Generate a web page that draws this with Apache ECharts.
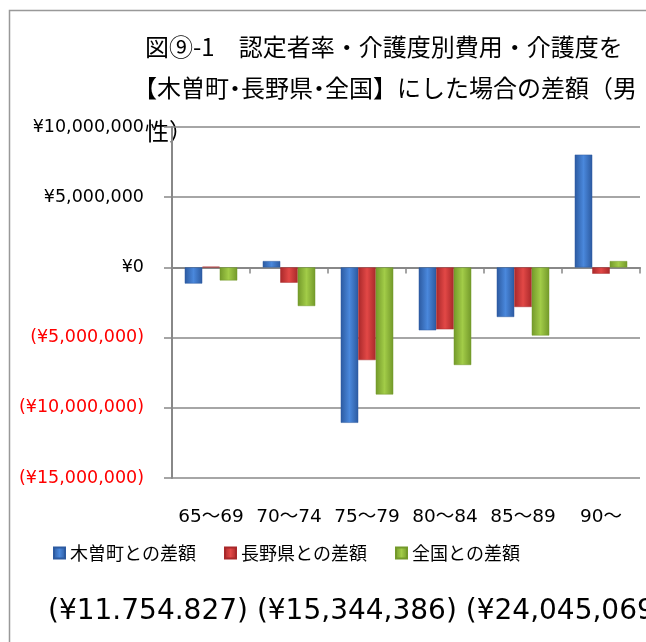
<!DOCTYPE html>
<html>
<head>
<meta charset="utf-8">
<script src="https://cdn.jsdelivr.net/npm/echarts@6/dist/echarts.min.js"></script>
<style>html,body{margin:0;padding:0;background:#fff;}#c{width:646px;height:642px;}</style>
</head>
<body>
<div id="c"></div>
<script>
const categories = ['65～69', '70～74', '75～79', '80～84', '85～89', '90～'];
const seriesNames = ['木曽町との差額', '長野県との差額', '全国との差額'];
const kisoValues = [-1150000, 450000, -11070000, -4480000, -3530000, 8030000];
const naganoValues = [50000, -1090000, -6600000, -4410000, -2820000, -450000];
const zenkokuValues = [-930000, -2750000, -9050000, -6950000, -4850000, 450000];
const titleLine1 = '図⑨-1　認定者率・介護度別費用・介護度を';
const titleLine2Parts = ['【木曽町', '長野県', '全国】にした場合の差額（男'];
const titleLine3 = '性）';
const footText = '(¥11.754.827) (¥15,344,386) (¥24,045,069';

const numFont = 'DejaVu Sans, Noto Sans CJK JP, sans-serif';
const cjkFont = 'Noto Sans CJK JP, sans-serif';

function grad(edge, mid) {
  return new echarts.graphic.LinearGradient(0, 0, 1, 0, [
    {offset: 0, color: edge}, {offset: 0.5, color: mid}, {offset: 1, color: edge}
  ]);
}
const colors = [
  {edge: '#2c5aa0', mid: '#4a88dc', legend: '#3a70c4'},
  {edge: '#a8282a', mid: '#e24846', legend: '#cc3434'},
  {edge: '#73992a', mid: '#a2cc48', legend: '#8cb83a'}
];
const allValues = [kisoValues, naganoValues, zenkokuValues];

const chart = echarts.init(document.getElementById('c'), null, {renderer: 'canvas'});
chart.setOption({
  animation: false,
  backgroundColor: '#fff',
  color: colors.map(c => c.legend),
  grid: {left: 172, right: 6, top: 127, bottom: 164, containLabel: false},
  legend: {
    left: 48, top: 539,
    itemWidth: 11, itemHeight: 11, itemGap: 28,
    icon: 'rect',
    textStyle: {fontFamily: cjkFont, fontSize: 18, color: '#000'},
    data: seriesNames
  },
  xAxis: [{
    type: 'category', data: categories,
    axisLine: {onZero: true, lineStyle: {color: '#888', width: 2}},
    axisTick: {show: true, length: 6, lineStyle: {color: '#888', width: 1.5}},
    axisLabel: {show: false}
  }, {
    type: 'category', data: categories, position: 'bottom',
    axisLine: {show: false, onZero: false},
    axisTick: {show: false},
    axisLabel: {show: true, margin: 30, interval: 0, fontFamily: numFont, fontSize: 18.5, color: '#000'}
  }],
  yAxis: {
    type: 'value', min: -15000000, max: 10000000, interval: 5000000,
    axisLine: {show: true, lineStyle: {color: '#888', width: 2}},
    axisTick: {show: true, length: 8, lineStyle: {color: '#888', width: 1.5}},
    splitLine: {show: true, lineStyle: {color: '#888', width: 1.5}},
    axisLabel: {
      margin: 28, fontFamily: numFont, fontSize: 17.5,
      formatter: function (v) {
        const s = '¥' + Math.abs(v).toLocaleString('en-US');
        return v < 0 ? '(' + s + ')' : s;
      },
      color: function (v) { return Number(v) < 0 ? '#ff0000' : '#000'; }
    }
  },
  series: seriesNames.map((name, i) => ({
    name: name, type: 'bar', xAxisIndex: 0,
    barWidth: 17.5, barGap: '0%',
    itemStyle: {color: grad(colors[i].edge, colors[i].mid), borderColor: colors[i].edge, borderWidth: 0.5},
    data: allValues[i]
  })),
  graphic: [
    {type: 'rect', left: 7, top: 8, shape: {width: 700, height: 700}, style: {fill: 'none', stroke: '#999', lineWidth: 1.5}, silent: true},
    {type: 'text', x: 145, y: 47, style: {text: titleLine1, font: '24px ' + cjkFont, fill: '#000', textVerticalAlign: 'middle'}},
    {type: 'text', x: 133, y: 88, style: {
      text: titleLine2Parts[0] + '{d|・}' + titleLine2Parts[1] + '{d|・}' + titleLine2Parts[2],
      font: '24px ' + cjkFont, fill: '#000', textVerticalAlign: 'middle',
      rich: {d: {width: 12, align: 'center', fontSize: 24, fontFamily: cjkFont}}
    }},
    {type: 'text', x: 145, y: 131, style: {text: titleLine3, font: '24px ' + cjkFont, fill: '#000', textVerticalAlign: 'middle'}},
    {type: 'text', x: 48, y: 612, style: {text: footText, font: '28px ' + numFont, fill: '#000', textVerticalAlign: 'middle'}}
  ]
});
</script>
</body>
</html>
